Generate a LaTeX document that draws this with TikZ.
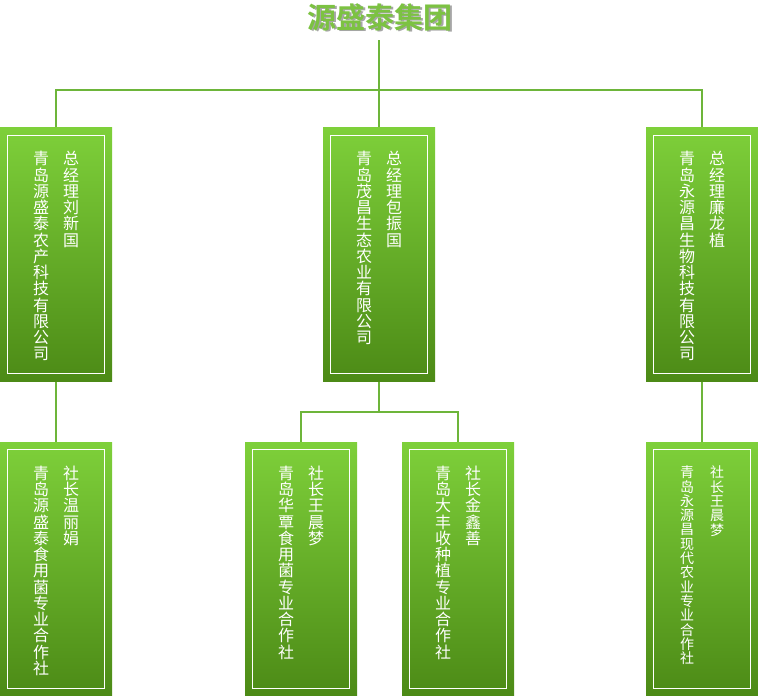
\documentclass[tikz,border=0pt]{standalone}
\usepackage{fontspec}
\newfontfamily\cjk{Noto Sans CJK SC}
\newfontfamily\cjkbold{Noto Sans CJK SC Bold}
\usetikzlibrary{calc}
\XeTeXlinebreaklocale "zh"
\XeTeXlinebreakskip=0pt plus 1pt
\definecolor{boxtop}{HTML}{7ED03A}
\definecolor{boxbottom}{HTML}{4C8A16}
\definecolor{linkgreen}{HTML}{6DB53A}
\definecolor{titlegreen}{HTML}{7CC242}

\begin{document}
\begin{tikzpicture}[x=1pt,y=-1pt,
    orgbox/.style={rectangle,minimum width=112pt,minimum height=254pt,inner sep=0pt,top color=boxtop,bottom color=boxbottom,draw=none},
    vtext/.style={text=white,font=\cjk\fontsize{16}{16.25}\selectfont,text width=17pt,align=center,inner sep=0pt,anchor=north},
    vsmall/.style={vtext,font=\cjk\fontsize{14}{14.3}\selectfont,text width=15pt},
    link/.style={draw=linkgreen,line width=2pt}]
                    \useasboundingbox (0,0) rectangle (758,696);
                    % title
                    \node[text=black!35,font=\cjkbold\fontsize{29}{29}\selectfont,inner sep=0pt] at (381.5,18.5) {源盛泰集团};
                    \node[text=titlegreen,font=\cjkbold\fontsize{29}{29}\selectfont,inner sep=0pt,name=grp] at (380,17) {源盛泰集团};
                    \coordinate (root) at (379,40);
                    \coordinate (bus) at (379,90);
                    \coordinate (bus2) at (379,412);
                    % boxes
                    \node[orgbox,name=ta] at (56,254.5) {};
                    \node[orgbox,name=tb] at (379,254.5) {};
                    \node[orgbox,name=tc] at (702,254.5) {};
                    \node[orgbox,name=ba] at (56,569) {};
                    \node[orgbox,name=bb] at (301,569) {};
                    \node[orgbox,name=bc] at (458,569) {};
                    \node[orgbox,name=bd] at (702,569) {};
                    \foreach \b in {ta,tb,tc,ba,bb,bc,bd}
                        \draw[white,line width=1pt] ($ (\b.north west) + (8,8) $) rectangle ($ (\b.south east) + (-8,-8) $);
                    % texts
                    \node[vtext] at ($ (ta.north) + (15,24) $) {总经理刘新国};
                    \node[vtext] at ($ (ta.north) + (-15,24) $) {青岛源盛泰农产科技有限公司};
                    \node[vtext] at ($ (tb.north) + (15,24) $) {总经理包振国};
                    \node[vtext] at ($ (tb.north) + (-15,24) $) {青岛茂昌生态农业有限公司};
                    \node[vtext] at ($ (tc.north) + (15,24) $) {总经理廉龙植};
                    \node[vtext] at ($ (tc.north) + (-15,24) $) {青岛永源昌生物科技有限公司};
                    \node[vtext] at ($ (ba.north) + (15,24) $) {社长温丽娟};
                    \node[vtext] at ($ (ba.north) + (-15,24) $) {青岛源盛泰食用菌专业合作社};
                    \node[vtext] at ($ (bb.north) + (15,24) $) {社长王晨梦};
                    \node[vtext] at ($ (bb.north) + (-15,24) $) {青岛华覃食用菌专业合作社};
                    \node[vtext] at ($ (bc.north) + (15,24) $) {社长金鑫善};
                    \node[vtext] at ($ (bc.north) + (-15,24) $) {青岛大丰收种植专业合作社};
                    \node[vsmall] at ($ (bd.north) + (15,24) $) {社长王晨梦};
                    \node[vsmall] at ($ (bd.north) + (-15,24) $) {青岛永源昌现代农业专业合作社};
                    % links
                    \draw[link] (root) -- (tb.north);
                    \draw[link] (ta.north) -- (ta.north |- bus) -- (tc.north |- bus) -- (tc.north);
                    \draw[link] (ta.south) -- (ba.north);
                    \draw[link] (tc.south) -- (bd.north);
                    \draw[link] (tb.south) -- (bus2);
                    \draw[link] (bb.north) -- (bb.north |- bus2) -- (bc.north |- bus2) -- (bc.north);
                \end{tikzpicture}
\end{document}
